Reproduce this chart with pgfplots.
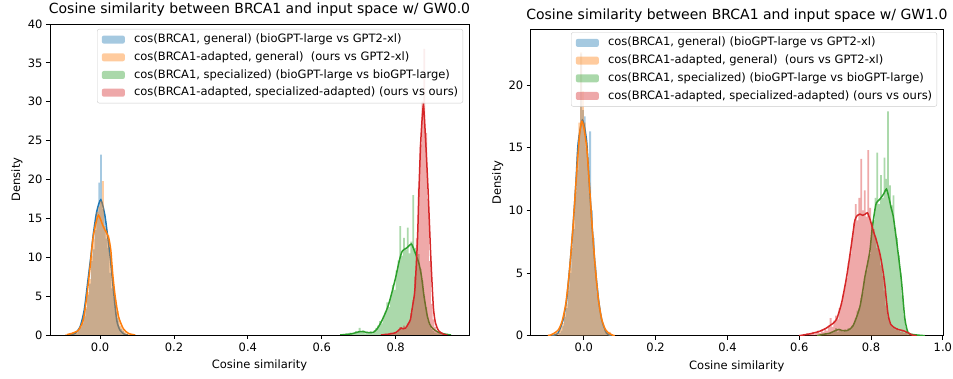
\documentclass[border=0pt]{standalone}
\usepackage{fontspec}
\setmainfont{DejaVu Sans}
\usepackage{pgfplots}
\pgfplotsset{compat=1.18}
\definecolor{c0}{HTML}{1F77B4}
\definecolor{c1}{HTML}{FF7F0E}
\definecolor{c2}{HTML}{2CA02C}
\definecolor{c3}{HTML}{D62728}
\pgfplotsset{
  myaxis/.style={
    scale only axis,
    anchor=south west,
    font=\fontsize{11.5}{13.8}\selectfont,
    /pgf/number format/assume math mode=true,
    axis line style={black, line width=0.9pt},
    tick align=outside,
    major tick length=4pt,
    tick style={black, line width=0.9pt},
    xtick pos=bottom, ytick pos=left,
    xtick={0,0.2,0.4,0.6,0.8,1.0},
    xticklabel style={/pgf/number format/fixed, /pgf/number format/fixed zerofill, /pgf/number format/precision=1},
    title style={font=\fontsize{14}{17}\selectfont, at={(0.5,1)}, anchor=base, yshift=4pt},
    xlabel={Cosine similarity},
    ylabel={Density},
    xlabel style={at={(axis description cs:0.5,0)}, anchor=base, yshift=-33.5pt},
    ylabel style={at={(axis description cs:0,0.5)}, anchor=center, yshift=33pt},
    legend cell align=left,
    legend image code/.code={\fill[#1,draw=none] (0pt,-4pt) rectangle (23pt,4pt);},
    legend style={at={(1,1)}, anchor=north east, draw=black!20, fill=white, fill opacity=0.8, text opacity=1,
      rounded corners=2pt, font=\fontsize{11.5}{13.8}\selectfont, inner xsep=4.6pt, inner ysep=3.5pt,
      row sep=3.9pt, column sep=9.2pt,
      nodes={inner xsep=0pt, inner ysep=1pt, text height=9pt, text depth=2.8pt}},
  },
  hb/.style={const plot, fill=c0, fill opacity=0.4, draw=none, forget plot},
  ho/.style={const plot, fill=c1, fill opacity=0.4, draw=none, forget plot},
  hg/.style={const plot, fill=c2, fill opacity=0.4, draw=none, forget plot},
  hr/.style={const plot, fill=c3, fill opacity=0.4, draw=none, forget plot},
  kd/.style={line width=1.5pt, smooth, tension=0.4, forget plot, mark=none},
}
\begin{document}
\begin{tikzpicture}[x=1pt,y=1pt]
\useasboundingbox (0,0) rectangle (953,379);
% ---------------- left ----------------
\begin{axis}[myaxis, at={(50pt,44pt)}, width=419pt, height=311pt,
  xmin=-0.1356, xmax=0.9985, ymin=0, ymax=40,
  ytick={0,5,10,15,20,25,30,35,40},
  title={Cosine similarity between BRCA1 and input space w/ GW0.0},
  legend style={xshift=-6pt, yshift=-5pt}]
\addlegendimage{fill=c0, fill opacity=0.4}
\addlegendentry{cos(BRCA1, general) (bioGPT-large vs GPT2-xl)}
\addlegendimage{fill=c1, fill opacity=0.4}
\addlegendentry{cos(BRCA1-adapted, general)~ (ours vs GPT2-xl)}
\addlegendimage{fill=c2, fill opacity=0.4}
\addlegendentry{cos(BRCA1, specialized) (bioGPT-large vs bioGPT-large)}
\addlegendimage{fill=c3, fill opacity=0.4}
\addlegendentry{cos(BRCA1-adapted, specialized-adapted) (ours vs ours)}
% blue hist
\addplot[hb] coordinates {(-0.090,0.05)(-0.085,0.1)(-0.080,0.0)(-0.075,0.15)(-0.070,0.3)(-0.065,0.2)(-0.060,0.6)(-0.055,1.0)(-0.050,1.5)(-0.045,2.4)(-0.040,3.4)(-0.035,5.2)(-0.030,6.6)(-0.025,9.5)(-0.020,11.0)(-0.015,13.5)(-0.010,16.0)(-0.005,19.6)(0.000,23.2)(0.005,16.2)(0.010,15.5)(0.015,12.4)(0.020,11.2)(0.025,8.0)(0.030,6.0)(0.035,4.8)(0.040,3.0)(0.045,2.2)(0.050,1.1)(0.055,0.8)(0.060,0.5)(0.065,0.2)(0.070,0.1)(0.075,0)} \closedcycle;
\addplot[kd, c0] coordinates {(-0.086,0)(-0.068,0.2)(-0.054,1.07)(-0.043,3.2)(-0.034,6.6)(-0.025,10.1)(-0.018,13.1)(-0.009,15.9)(0.002,17.4)(0.0136,15.2)(0.027,10.1)(0.036,5.8)(0.045,1.9)(0.054,0.6)(0.067,0.05)(0.075,0)};
% orange hist
\addplot[ho] coordinates {(-0.095,0.1)(-0.090,0.0)(-0.085,0.2)(-0.080,0.1)(-0.075,0.3)(-0.070,0.2)(-0.065,0.5)(-0.060,0.7)(-0.055,1.1)(-0.050,1.5)(-0.045,2.4)(-0.040,3.6)(-0.035,5.5)(-0.030,7.2)(-0.025,10.2)(-0.020,12.3)(-0.015,14.5)(-0.010,15.8)(-0.005,16.5)(0.000,17.2)(0.005,19.8)(0.010,14.0)(0.015,13.5)(0.020,12.8)(0.025,10.6)(0.030,8.8)(0.035,6.2)(0.040,4.5)(0.045,3.1)(0.050,1.8)(0.055,1.2)(0.060,0.7)(0.065,0.4)(0.070,0.2)(0.075,0.1)(0.080,0.15)(0.085,0.0)(0.090,0)} \closedcycle;
\addplot[kd, c1] coordinates {(-0.09,0.05)(-0.077,0.2)(-0.059,0.6)(-0.047,1.7)(-0.041,3.2)(-0.034,5.8)(-0.027,8.8)(-0.020,12.2)(-0.0136,13.9)(-0.0045,15.4)(0.009,13.9)(0.0226,12.6)(0.029,10.9)(0.034,7.9)(0.041,4.9)(0.050,2.35)(0.063,0.8)(0.077,0.2)(0.095,0)};
% green hist
\addplot[hg] coordinates {(0.660,0.1)(0.665,0.2)(0.670,0.0)(0.675,0.3)(0.680,0.1)(0.685,0.2)(0.690,0.5)(0.695,0.3)(0.700,0.9)(0.705,0.4)(0.710,0.6)(0.715,0.2)(0.720,0.4)(0.725,0.3)(0.730,0.5)(0.735,0.2)(0.740,0.6)(0.745,0.9)(0.750,1.2)(0.755,1.8)(0.760,1.5)(0.765,2.4)(0.770,3.0)(0.775,4.2)(0.780,3.6)(0.785,5.1)(0.790,6.4)(0.795,5.8)(0.800,8.3)(0.805,9.6)(0.810,14.0)(0.815,10.2)(0.820,12.5)(0.825,11.0)(0.830,13.8)(0.835,10.5)(0.840,12.0)(0.845,18.0)(0.850,11.2)(0.855,9.8)(0.860,10.4)(0.865,8.5)(0.870,7.0)(0.875,5.0)(0.880,3.6)(0.885,2.0)(0.890,1.2)(0.895,0.8)(0.900,0.5)(0.905,0.3)(0.910,0.2)(0.915,0.4)(0.920,0.1)(0.925,0.1)(0.930,0.0)(0.935,0.1)(0.940,0.0)(0.945,0)} \closedcycle;
\addplot[kd, c2] coordinates {(0.65,0)(0.66,0.05)(0.68,0.15)(0.70,0.4)(0.71,0.45)(0.72,0.35)(0.73,0.3)(0.74,0.35)(0.75,0.8)(0.76,1.6)(0.77,2.6)(0.78,3.8)(0.79,5.5)(0.80,7.4)(0.81,9.6)(0.818,10.8)(0.83,11.2)(0.8425,11.7)(0.85,10.9)(0.855,10.3)(0.863,9.2)(0.87,7.5)(0.877,4.9)(0.886,2.35)(0.893,1.3)(0.90,0.86)(0.913,0.4)(0.93,0.15)(0.95,0)};
% red hist
\addplot[hr] coordinates {(0.760,0.1)(0.765,0.0)(0.770,0.2)(0.775,0.1)(0.780,0.2)(0.785,0.3)(0.790,0.2)(0.795,0.4)(0.800,0.3)(0.805,0.7)(0.810,1.0)(0.815,0.8)(0.820,1.2)(0.825,0.9)(0.830,1.5)(0.835,1.8)(0.840,2.8)(0.845,4.5)(0.850,7.5)(0.855,12.5)(0.860,19.0)(0.865,24.5)(0.870,30.0)(0.875,36.8)(0.880,26.0)(0.885,17.5)(0.890,9.5)(0.895,4.0)(0.900,2.0)(0.905,1.0)(0.910,0.5)(0.915,0.3)(0.920,0.2)(0.925,0.1)(0.930,0.0)(0.935,0)} \closedcycle;
\addplot[kd, c3] coordinates {(0.76,0)(0.78,0.1)(0.80,0.3)(0.81,0.7)(0.815,0.9)(0.82,0.8)(0.827,0.9)(0.835,1.5)(0.84,2.0)(0.845,3.5)(0.852,5.8)(0.859,12.2)(0.863,18.6)(0.868,25)(0.875,29.5)(0.881,25.1)(0.8877,18.6)(0.895,10.1)(0.902,3.6)(0.908,1.5)(0.917,0.5)(0.93,0.1)(0.94,0)};
\end{axis}
% ---------------- right ----------------
\begin{axis}[myaxis, at={(530.7pt,43.3pt)}, width=412.3pt, height=306.4pt,
  xmin=-0.148, xmax=1.0005, ymin=0, ymax=24.44,
  ytick={0,5,10,15,20},
  title style={yshift=-0.5pt},
  title={Cosine similarity between BRCA1 and input space w/ GW1.0},
  legend style={xshift=-6pt, yshift=-3pt}]
\addlegendimage{fill=c0, fill opacity=0.4}
\addlegendentry{cos(BRCA1, general) (bioGPT-large vs GPT2-xl)}
\addlegendimage{fill=c1, fill opacity=0.4}
\addlegendentry{cos(BRCA1-adapted, general)~ (ours vs GPT2-xl)}
\addlegendimage{fill=c2, fill opacity=0.4}
\addlegendentry{cos(BRCA1, specialized) (bioGPT-large vs bioGPT-large)}
\addlegendimage{fill=c3, fill opacity=0.4}
\addlegendentry{cos(BRCA1-adapted, specialized-adapted) (ours vs ours)}
\addplot[hb] coordinates {(-0.080,0.1)(-0.075,0.0)(-0.070,0.2)(-0.065,0.4)(-0.060,0.8)(-0.055,1.5)(-0.050,2.2)(-0.045,3.6)(-0.040,5.0)(-0.035,7.0)(-0.030,8.5)(-0.025,11.5)(-0.020,13.2)(-0.015,16.0)(-0.010,22.5)(-0.005,18.0)(0.000,17.5)(0.005,15.0)(0.010,13.8)(0.015,16.3)(0.020,10.0)(0.025,7.8)(0.030,5.6)(0.035,3.8)(0.040,2.6)(0.045,1.5)(0.050,1.0)(0.055,0.5)(0.060,0.2)(0.065,0.1)(0.070,0.05)(0.075,0)} \closedcycle;
\addplot[kd, c0] coordinates {(-0.09,0)(-0.072,0.2)(-0.058,1.25)(-0.048,2.85)(-0.039,5.5)(-0.030,8.7)(-0.022,12.2)(-0.016,15.3)(-0.004,17.2)(0.0075,15.6)(0.015,12.2)(0.023,8.7)(0.0316,5.5)(0.041,2.85)(0.050,1.25)(0.063,0.2)(0.077,0)};
\addplot[ho] coordinates {(-0.100,0.1)(-0.095,0.0)(-0.090,0.2)(-0.085,0.1)(-0.080,0.3)(-0.075,0.2)(-0.070,0.5)(-0.065,0.7)(-0.060,1.0)(-0.055,1.8)(-0.050,2.5)(-0.045,3.9)(-0.040,5.4)(-0.035,7.2)(-0.030,9.5)(-0.025,11.8)(-0.020,14.5)(-0.015,17.0)(-0.010,22.6)(-0.005,19.5)(0.000,17.0)(0.005,15.4)(0.010,14.2)(0.015,11.0)(0.020,9.2)(0.025,7.0)(0.030,5.2)(0.035,3.4)(0.040,2.4)(0.045,1.6)(0.050,0.9)(0.055,0.6)(0.060,0.4)(0.065,0.2)(0.070,0.3)(0.075,0.1)(0.080,0.05)(0.085,0)} \closedcycle;
\addplot[kd, c1] coordinates {(-0.10,0)(-0.09,0.08)(-0.08,0.25)(-0.07,0.5)(-0.06,1.2)(-0.05,2.6)(-0.04,5.2)(-0.03,8.8)(-0.02,13.0)(-0.012,16.0)(-0.006,17.1)(0.0,16.6)(0.008,15.0)(0.015,12.3)(0.023,8.8)(0.032,5.4)(0.041,2.8)(0.05,1.3)(0.06,0.5)(0.07,0.2)(0.08,0.05)(0.086,0)};
\addplot[hg] coordinates {(0.650,0.0)(0.655,0.1)(0.660,0.0)(0.665,0.1)(0.670,0.2)(0.675,0.1)(0.680,0.2)(0.685,0.3)(0.690,0.2)(0.695,0.4)(0.700,0.6)(0.705,0.3)(0.710,0.5)(0.715,0.4)(0.720,0.3)(0.725,0.5)(0.730,0.4)(0.735,0.6)(0.740,0.5)(0.745,0.8)(0.750,1.0)(0.755,1.4)(0.760,2.0)(0.765,2.2)(0.770,3.0)(0.775,3.5)(0.780,4.6)(0.785,5.2)(0.790,6.0)(0.795,6.5)(0.800,8.8)(0.805,9.2)(0.810,11.0)(0.815,14.6)(0.820,10.5)(0.825,12.8)(0.830,11.0)(0.835,14.2)(0.840,12.5)(0.845,17.9)(0.850,12.0)(0.855,10.4)(0.860,11.2)(0.865,8.6)(0.870,7.8)(0.875,6.4)(0.880,5.0)(0.885,3.2)(0.890,1.6)(0.895,0.7)(0.900,0.3)(0.905,0.2)(0.910,0.1)(0.915,0.1)(0.920,0.0)(0.925,0.1)(0.930,0.0)(0.935,0)} \closedcycle;
\addplot[kd, c2] coordinates {(0.65,0.0)(0.665,0.1)(0.685,0.2)(0.70,0.4)(0.711,0.5)(0.72,0.4)(0.732,0.4)(0.74,0.5)(0.75,0.8)(0.76,1.5)(0.769,2.3)(0.776,3.4)(0.783,4.7)(0.79,5.7)(0.797,6.8)(0.803,8.5)(0.81,9.9)(0.815,10.6)(0.825,10.9)(0.835,11.3)(0.843,11.7)(0.85,11.0)(0.856,10.2)(0.862,9.5)(0.871,7.6)(0.878,6.0)(0.885,4.3)(0.894,1.4)(0.903,0.25)(0.915,0.1)(0.93,0.05)(0.95,0)};
\addplot[hr] coordinates {(0.610,0.1)(0.615,0.0)(0.620,0.2)(0.625,0.1)(0.630,0.2)(0.635,0.3)(0.640,0.1)(0.645,0.3)(0.650,0.4)(0.655,0.2)(0.660,0.5)(0.665,0.3)(0.670,0.6)(0.675,0.4)(0.680,0.8)(0.685,1.4)(0.690,0.7)(0.695,1.2)(0.700,1.6)(0.705,1.3)(0.710,2.2)(0.715,2.6)(0.720,3.3)(0.725,4.0)(0.730,4.6)(0.735,5.8)(0.740,6.5)(0.745,7.8)(0.750,9.0)(0.755,10.5)(0.760,9.2)(0.765,11.0)(0.770,14.1)(0.775,10.0)(0.780,11.6)(0.785,9.5)(0.790,14.8)(0.795,10.2)(0.800,9.0)(0.805,8.5)(0.810,7.9)(0.815,7.0)(0.820,6.8)(0.825,5.6)(0.830,4.8)(0.835,3.6)(0.840,2.4)(0.845,1.5)(0.850,1.0)(0.855,0.8)(0.860,0.6)(0.865,0.5)(0.870,0.6)(0.875,0.4)(0.880,0.3)(0.885,0.4)(0.890,0.2)(0.895,0.3)(0.900,0.1)(0.905,0.1)(0.910,0.0)(0.915,0.05)(0.920,0)} \closedcycle;
\addplot[kd, c3] coordinates {(0.60,0)(0.61,0.05)(0.63,0.15)(0.657,0.35)(0.675,0.6)(0.685,0.8)(0.695,1.0)(0.704,1.3)(0.711,1.9)(0.718,2.6)(0.725,3.6)(0.732,4.7)(0.739,6.0)(0.746,7.4)(0.755,9.2)(0.762,9.6)(0.769,9.7)(0.777,9.6)(0.784,9.7)(0.79,9.8)(0.797,9.3)(0.806,8.4)(0.815,7.6)(0.825,6.5)(0.832,5.4)(0.838,4.2)(0.843,2.8)(0.848,1.6)(0.855,0.9)(0.862,0.7)(0.875,0.5)(0.89,0.4)(0.905,0.2)(0.915,0.05)(0.927,0)};
\end{axis}
\end{tikzpicture}
\end{document}
